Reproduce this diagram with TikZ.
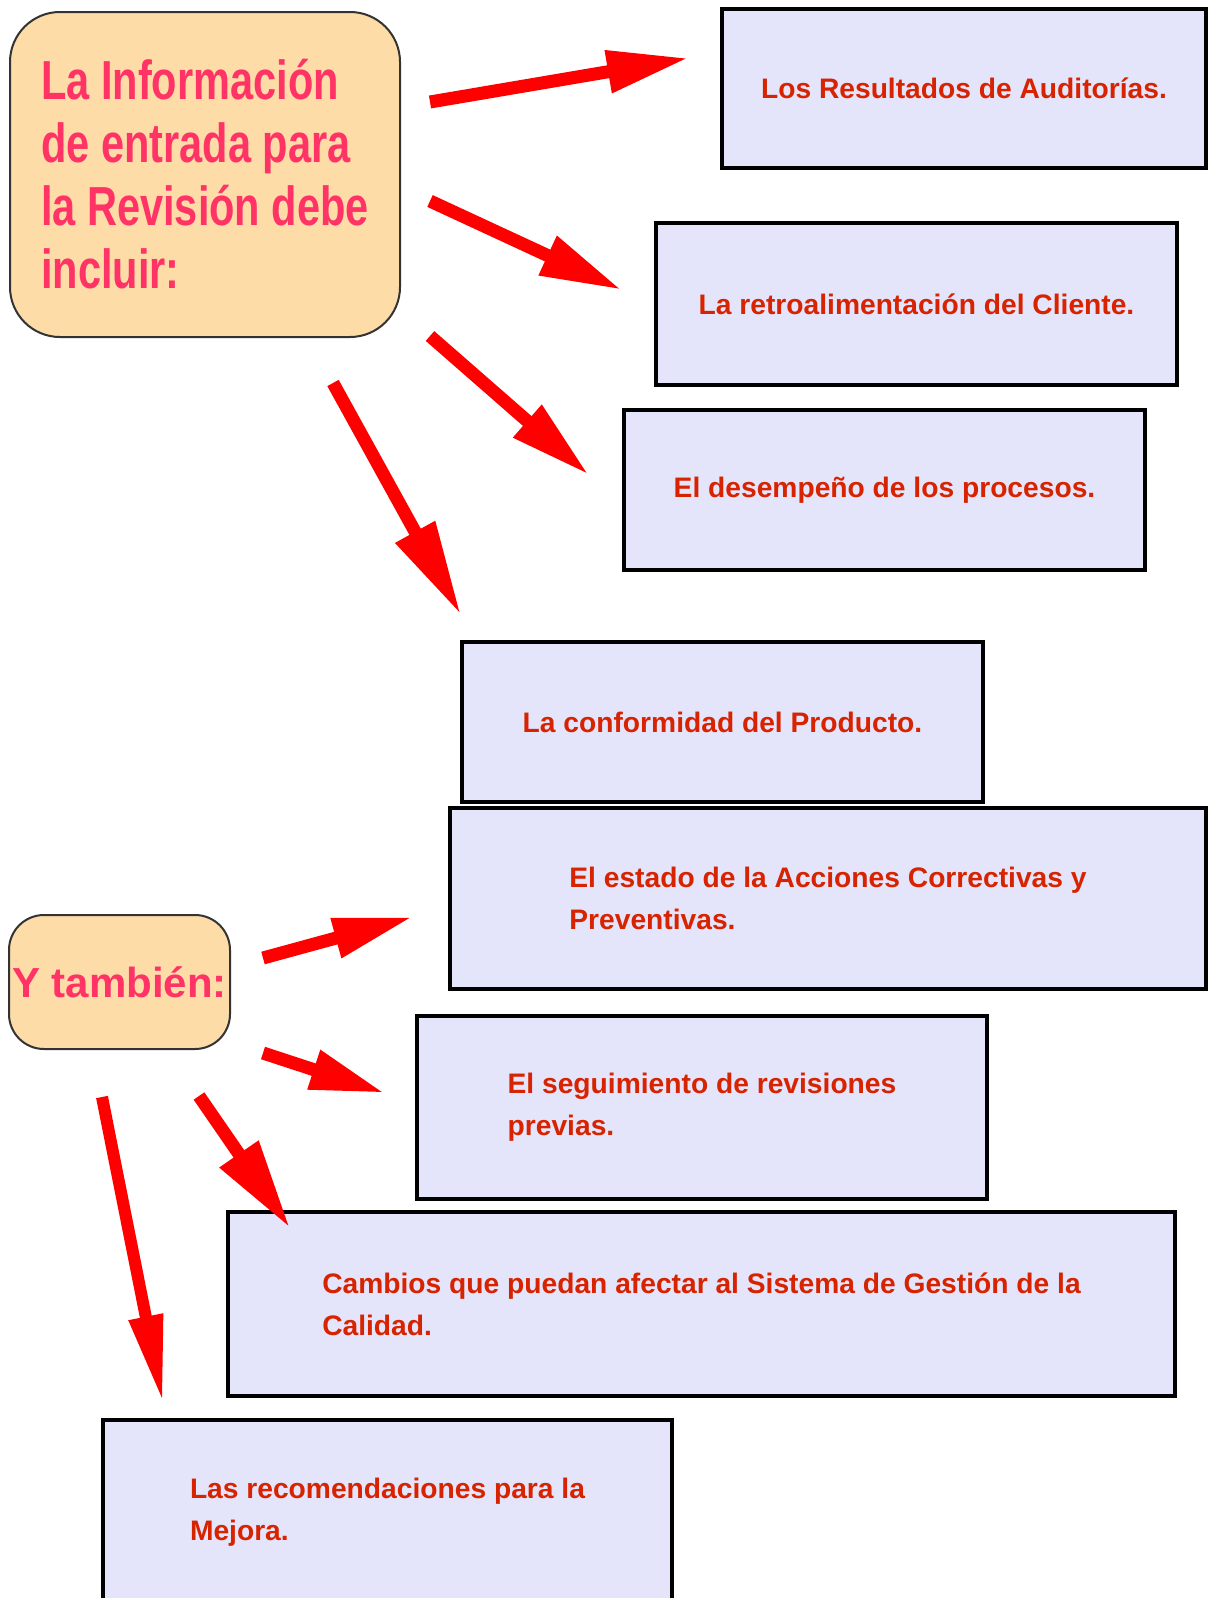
\documentclass[tikz,border=0pt]{standalone}
\usepackage{fontspec}
\setmainfont{Liberation Sans}
\newfontfamily\narrowfont[FakeStretch=0.755]{Liberation Sans}
\usetikzlibrary{arrows.meta}

\definecolor{pinktext}{RGB}{255,51,102}
\definecolor{peach}{RGB}{253,220,168}
\definecolor{lavender}{RGB}{228,228,250}
\definecolor{itemtext}{RGB}{215,35,0}

\begin{document}
\begin{tikzpicture}[
        x = 1pt, y = -1pt,
        headbox/.style = {draw = black!80, line width = 2pt, fill = peach, rounded corners = 50pt, text = pinktext, align = left, inner sep = 0pt},
        itembox/.style = {draw = black, line width = 4pt, fill = lavender, text = itemtext, align = left, inner sep = 0pt, font = \fontsize{28.2}{42}\selectfont\bfseries},
        bigarrow/.style = {red, line width = 13pt, -{Triangle[length = 82pt, width = 40pt]}}
    ]
        \useasboundingbox (0,0) rectangle (1209,1598);

        % boxes with the headings
        \node[headbox, minimum width = 390pt, minimum height = 325pt, font = \narrowfont\fontsize{55}{63}\selectfont\bfseries] (info) at (205,174.5) {La Información\\de entrada para\\la Revisión debe\\incluir:};
        \node[headbox, rounded corners = 35pt, minimum width = 221pt, minimum height = 134pt, font = \fontsize{42}{50}\selectfont\bfseries] (also) at (119.5,982) {Y también:};

        % boxes with the items
        \node[itembox, minimum width = 484pt, minimum height = 159pt] (audit) at (964,88) {Los Resultados de Auditorías.};
        \node[itembox, minimum width = 521pt, minimum height = 162pt] (client) at (916.5,304) {La retroalimentación del Cliente.};
        \node[itembox, minimum width = 521pt, minimum height = 160pt] (process) at (884.5,490) {El desempeño de los procesos.};
        \node[itembox, minimum width = 521pt, minimum height = 160pt] (product) at (722.5,722) {La conformidad del Producto.};
        \node[itembox, minimum width = 756pt, minimum height = 181pt] (actions) at (828,898.5) {El estado de la Acciones Correctivas y\\Preventivas.};
        \node[itembox, minimum width = 570pt, minimum height = 183pt] (followup) at (702,1107.5) {El seguimiento de revisiones\\previas.};
        \node[itembox, minimum width = 947pt, minimum height = 184pt] (changes) at (701.5,1304) {Cambios que puedan afectar al Sistema de Gestión de la\\Calidad.};
        \node[itembox, minimum width = 569pt, minimum height = 184pt] (improve) at (387.5,1512) {Las recomendaciones para la\\Mejora.};

        % arrow ends
        \coordinate (from1) at (430,102);  \coordinate (to1) at (689,58);
        \coordinate (from2) at (430,201);  \coordinate (to2) at (622,290);
        \coordinate (from3) at (430,336);  \coordinate (to3) at (589,475);
        \coordinate (from4) at (333,383);  \coordinate (to4) at (461,615);
        \coordinate (from5) at (263,958);  \coordinate (to5) at (413,917);
        \coordinate (from6) at (263,1053); \coordinate (to6) at (385,1093);
        \coordinate (from7) at (199,1096); \coordinate (to7) at (290,1228);
        \coordinate (from8) at (102,1097); \coordinate (to8) at (163,1403);

        \draw[bigarrow] (from1) -- (to1);
        \draw[bigarrow] (from2) -- (to2);
        \draw[bigarrow] (from3) -- (to3);
        \draw[bigarrow, -{Triangle[length = 95pt, width = 42pt]}] (from4) -- (to4);
        \draw[bigarrow, -{Triangle[length = 80pt, width = 38pt]}] (from5) -- (to5);
        \draw[bigarrow, -{Triangle[length = 75pt, width = 38pt]}] (from6) -- (to6);
        \draw[bigarrow, -{Triangle[length = 90pt, width = 44pt]}] (from7) -- (to7);
        \draw[bigarrow, line width = 12pt, -{Triangle[length = 88pt, width = 32pt]}] (from8) -- (to8);

    \end{tikzpicture}
\end{document}
